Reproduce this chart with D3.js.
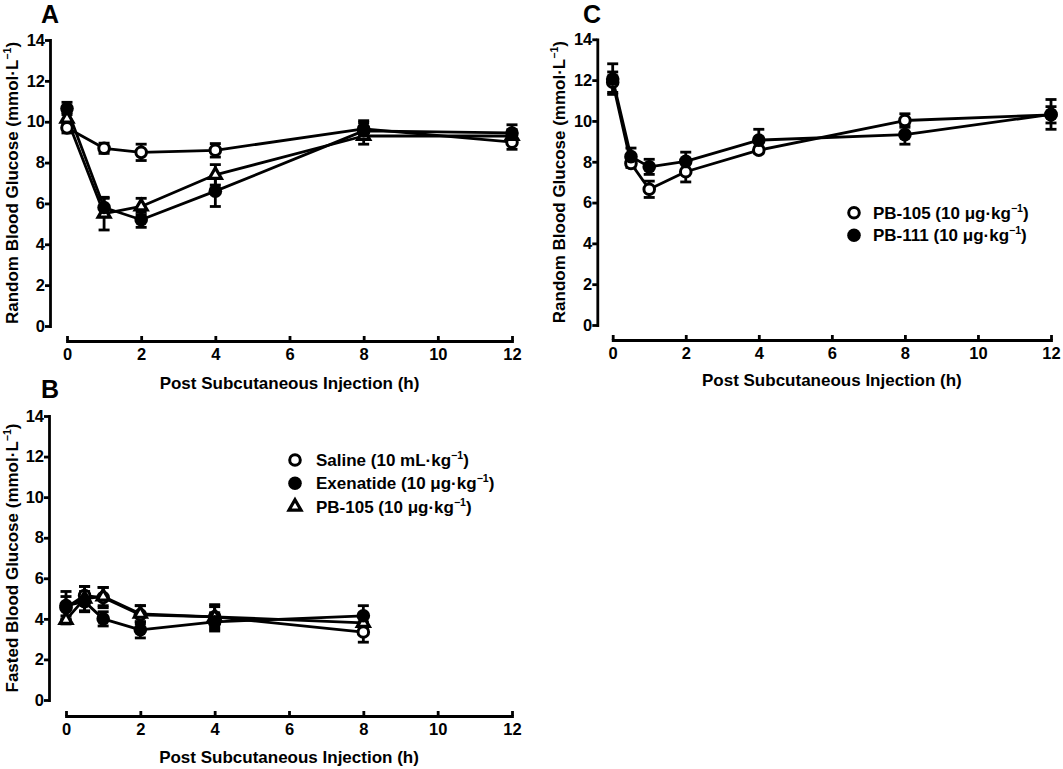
<!DOCTYPE html>
<html><head><meta charset="utf-8">
<script src="https://cdn.jsdelivr.net/npm/d3@7"></script>
<style>
body{margin:0;background:#fff}
svg{display:block}
text{font-family:"Liberation Sans",Arial,Helvetica,sans-serif;font-weight:bold;fill:#000}
</style>
</head><body>
<svg id="chart" width="1063" height="769"></svg>
<script>
// ---------- data ----------
const xTickValues = [0, 2, 4, 6, 8, 10, 12];
const yTickValues = [0, 2, 4, 6, 8, 10, 12, 14];

// Panel A: random blood glucose
const timeA = [0, 1, 2, 4, 8, 12];
const salineA = [9.7, 8.7, 8.5, 8.6, 9.65, 9.0];
const salineAErr = [0.25, 0.25, 0.4, 0.33, 0.4, 0.35];
const exenatideA = [10.65, 5.8, 5.2, 6.6, 9.55, 9.45];
const exenatideAErr = [0.3, 0.45, 0.37, 0.75, 0.4, 0.4];
const pb105A = [10.15, 5.5, 5.85, 7.4, 9.3, 9.3];
const pb105AErr = [0.3, 0.8, 0.4, 0.5, 0.4, 0.3];

// Panel B: fasted blood glucose
const timeB = [0, 0.5, 1, 2, 4, 8];
const salineB = [4.55, 5.15, 5.05, 4.2, 4.1, 3.35];
const salineBErr = [0.55, 0.45, 0.5, 0.45, 0.6, 0.5];
const exenatideB = [4.65, 4.85, 4.0, 3.46, 3.85, 4.15];
const exenatideBErr = [0.7, 0.5, 0.35, 0.4, 0.45, 0.5];
const pb105B = [3.95, 5.0, 5.1, 4.25, 4.1, 3.8];
const pb105BErr = [0.2, 0.6, 0.45, 0.4, 0.5, 0.3];

// Panel C: random blood glucose, PB-105 vs PB-111
const timeC = [0, 0.5, 1, 2, 4, 8, 12];
const pb105C = [11.9, 7.92, 6.65, 7.51, 8.57, 10.02, 10.3];
const pb105CErr = [0.5, 0.2, 0.4, 0.5, 0.15, 0.33, 0.4];
const pb111C = [12.05, 8.25, 7.75, 8.02, 9.06, 9.33, 10.32];
const pb111CErr = [0.75, 0.42, 0.37, 0.45, 0.53, 0.47, 0.73];

const legendB = ["Saline (10 mL·kg", "Exenatide (10 μg·kg", "PB-105 (10 μg·kg"];
const legendC = ["PB-105 (10 μg·kg", "PB-111 (10 μg·kg"];

// ---------- drawing ----------
const svg = d3.select("#chart");
const SW = 2.8;

function markerShape(sel, kind) {
  if (kind === "open") {
    sel.append("circle").attr("r", 5.3).attr("fill", "#fff").attr("stroke", "#000").attr("stroke-width", 3);
  } else if (kind === "filled") {
    sel.append("circle").attr("r", 6.8).attr("fill", "#000");
  } else {
    sel.append("path").attr("d", d3.symbol().type(d3.symbolTriangle).size(62)())
      .attr("fill", "#fff").attr("stroke", "#000").attr("stroke-width", 3.2).attr("stroke-linejoin", "miter");
  }
}

function supText(sel, main, sup, tail, fs) {
  sel.append("tspan").text(main);
  sel.append("tspan").text(sup).attr("font-size", fs * 0.62).attr("dy", -fs * 0.42);
  sel.append("tspan").text(tail).attr("dy", fs * 0.42);
}

function drawPanel(o) {
  const g = svg.append("g");
  const x = d3.scaleLinear().domain([0, 12]).range([o.x0, o.x1]);
  const y = d3.scaleLinear().domain([0, 14]).range([o.y0, o.y1]);

  const ya = g.append("g").attr("transform", `translate(${o.ax},0)`)
    .call(d3.axisLeft(y).tickValues(yTickValues).tickSize(5).tickSizeOuter(0).tickPadding(0).tickFormat(d3.format("d")));
  const xa = g.append("g").attr("transform", `translate(0,${o.ay})`)
    .call(d3.axisBottom(x).tickValues(xTickValues).tickSize(-5).tickSizeOuter(0).tickPadding(7).tickFormat(d3.format("d")));
  [ya, xa].forEach(a => {
    a.select(".domain").attr("stroke", "#000").attr("stroke-width", SW).attr("stroke-linecap", "square");
    a.selectAll(".tick line").attr("stroke", "#000").attr("stroke-width", SW);
    a.selectAll(".tick text").attr("font-size", 16.5).attr("fill", "#000")
      .attr("font-family", "'Liberation Sans',Arial,sans-serif").attr("font-weight", "bold");
  });

  // axis titles
  g.append("text").attr("x", (o.x0 + o.x1) / 2).attr("y", o.xtY).attr("text-anchor", "middle")
    .attr("font-size", 17).text("Post Subcutaneous Injection (h)");
  const yt = g.append("text").attr("transform", `translate(${o.ytX},${(o.y0 + o.y1) / 2}) rotate(-90)`)
    .attr("text-anchor", "middle").attr("font-size", 17);
  supText(yt, o.yTitle + " (mmol·L", "−1", ")", 17);

  // panel letter
  g.append("text").attr("x", o.lx).attr("y", o.ly).attr("font-size", 25).text(o.letter);

  const line = d3.line().x(d => x(d[0])).y(d => y(d[1]));
  o.series.forEach(s => {
    g.append("path").datum(s.t.map((t, i) => [t, s.v[i]])).attr("d", line)
      .attr("fill", "none").attr("stroke", "#000").attr("stroke-width", SW).attr("stroke-linejoin", "round");
  });
  o.series.forEach(s => {
    const eg = g.append("g").attr("stroke", "#000").attr("stroke-width", SW);
    s.t.forEach((t, i) => {
      const cx = x(t), lo = y(s.v[i] - s.e[i]), hi = y(s.v[i] + s.e[i]);
      eg.append("line").attr("x1", cx).attr("x2", cx).attr("y1", lo).attr("y2", hi);
      eg.append("line").attr("x1", cx - 5.5).attr("x2", cx + 5.5).attr("y1", lo).attr("y2", lo);
      eg.append("line").attr("x1", cx - 5.5).attr("x2", cx + 5.5).attr("y1", hi).attr("y2", hi);
    });
  });
  o.series.forEach(s => {
    s.t.forEach((t, i) => {
      const m = g.append("g").attr("transform", `translate(${x(t)},${y(s.v[i])})`);
      markerShape(m, s.kind);
    });
  });

  if (o.legend) {
    o.legend.items.forEach((it, i) => {
      const yy = o.legend.y + i * o.legend.dy;
      const m = g.append("g").attr("transform", `translate(${o.legend.x},${yy})`);
      markerShape(m, it.kind);
      const t = g.append("text").attr("x", o.legend.x + o.legend.tx).attr("y", yy).attr("dy", "0.36em").attr("font-size", 17);
      supText(t, it.label, "−1", ")", 17);
    });
  }
}

drawPanel({
  letter: "A", lx: 41, ly: 23,
  x0: 67, x1: 512, y0: 326, y1: 40, ax: 50, ay: 341,
  xtY: 389, ytX: 18, yTitle: "Random Blood Glucose",
  series: [
    {t: timeA, v: salineA, e: salineAErr, kind: "open"},
    {t: timeA, v: pb105A, e: pb105AErr, kind: "tri"},
    {t: timeA, v: exenatideA, e: exenatideAErr, kind: "filled"}
  ]
});

drawPanel({
  letter: "B", lx: 41, ly: 398,
  x0: 66, x1: 512, y0: 700, y1: 416, ax: 49, ay: 716,
  xtY: 763, ytX: 18, yTitle: "Fasted Blood Glucose",
  series: [
    {t: timeB, v: salineB, e: salineBErr, kind: "open"},
    {t: timeB, v: pb105B, e: pb105BErr, kind: "tri"},
    {t: timeB, v: exenatideB, e: exenatideBErr, kind: "filled"}
  ],
  legend: {x: 295, y: 460, dy: 23.3, tx: 21, items: [
    {kind: "open", label: legendB[0]},
    {kind: "filled", label: legendB[1]},
    {kind: "tri", label: legendB[2]}
  ]}
});

drawPanel({
  letter: "C", lx: 583, ly: 23,
  x0: 612.7, x1: 1051, y0: 325, y1: 39.3, ax: 597.3, ay: 340,
  xtY: 386, ytX: 565, yTitle: "Random Blood Glucose",
  series: [
    {t: timeC, v: pb105C, e: pb105CErr, kind: "open"},
    {t: timeC, v: pb111C, e: pb111CErr, kind: "filled"}
  ],
  legend: {x: 854, y: 212.7, dy: 22.5, tx: 19, items: [
    {kind: "open", label: legendC[0]},
    {kind: "filled", label: legendC[1]}
  ]}
});
</script>
</body></html>
